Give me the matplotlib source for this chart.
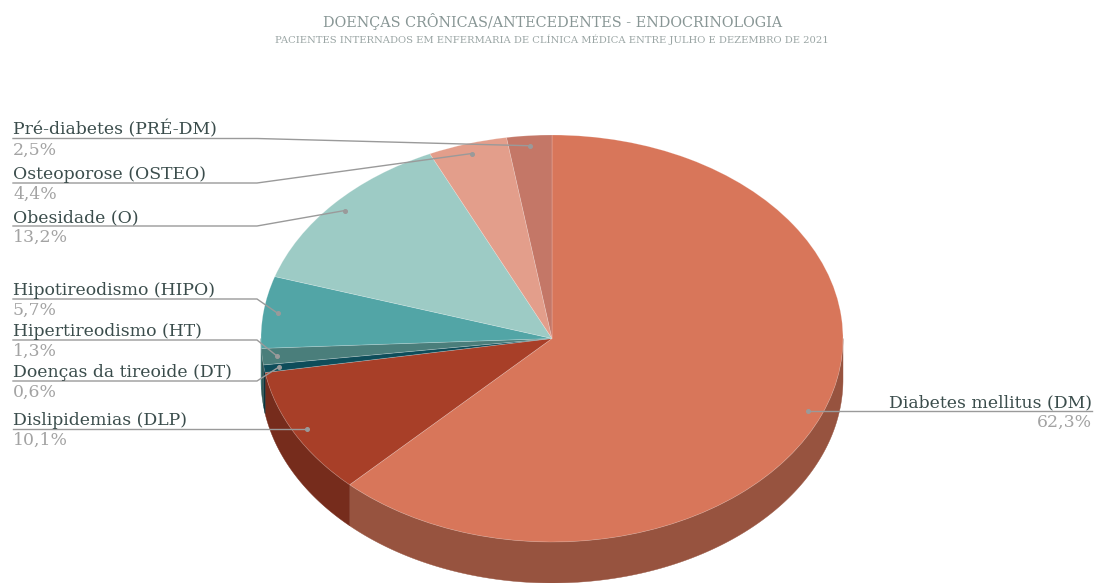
import numpy as np
import matplotlib
matplotlib.use("Agg")
import matplotlib.pyplot as plt
from matplotlib.colors import to_rgb

# ---------------- data ----------------
categories = ["Diabetes mellitus (DM)", "Dislipidemias (DLP)", "Doenças da tireoide (DT)",
              "Hipertireodismo (HT)", "Hipotireodismo (HIPO)", "Obesidade (O)",
              "Osteoporose (OSTEO)", "Pré-diabetes (PRÉ-DM)"]
values = [62.3, 10.1, 0.6, 1.3, 5.7, 13.2, 4.4, 2.5]
pct_labels = ["62,3%", "10,1%", "0,6%", "1,3%", "5,7%", "13,2%", "4,4%", "2,5%"]
colors = ["#D8765A", "#A83F28", "#0E4D5A", "#4A7E7B", "#52A5A6", "#9DCBC5", "#E39E8B", "#C47767"]

title = "DOENÇAS CRÔNICAS/ANTECEDENTES - ENDOCRINOLOGIA"
subtitle = "PACIENTES INTERNADOS EM ENFERMARIA DE CLÍNICA MÉDICA ENTRE JULHO E DEZEMBRO DE 2021"

# ---------------- layout ----------------
W, H = 1094, 583
CX, CY, RX, RY = 552.0, 338.5, 291.0, 203.5
DEPTH = 41.0 / RY
# label line y (pixels) for left-side labels; None -> use dot height
label_line_y = [None, None, 381, 340, 299, 226, 183, 138.5]
ELBOW_X = 257
LEFT_X = 13
RIGHT_X = 1092

fig = plt.figure(figsize=(W / 100, H / 100), dpi=100)
ax = fig.add_axes([0, 0, 1, 1])

def px(x, y):
    return (x - CX) / RX, (CY - y) / RY

def to_px(x, y):
    return CX + x * RX, CY - y * RY

vals = np.array(values, dtype=float)
frac = vals / vals.sum()
cum = np.concatenate([[0], np.cumsum(frac)])
# math angles (deg), clockwise from top
a_start = 90 - cum[:-1] * 360
a_end = 90 - cum[1:] * 360

def darker(c, f=0.7):
    r, g, b = to_rgb(c)
    return (r * f, g * f, b * f)

# side walls (front half only: math angle in [180, 360])
for i in range(len(vals)):
    t1, t2 = a_end[i], a_start[i]  # t1 < t2
    for shift in (0, -360, 360):
        lo = max(t1 + shift, 180)
        hi = min(t2 + shift, 360)
        if hi > lo:
            t = np.radians(np.linspace(lo, hi, 200))
            xs = np.cos(t)
            ys = np.sin(t)
            poly_x = np.concatenate([xs, xs[::-1]])
            poly_y = np.concatenate([ys, ys[::-1] - DEPTH])
            ax.fill(poly_x, poly_y, color=darker(colors[i]), lw=0.3,
                    ec=darker(colors[i]), zorder=1)

# top face
wedges, _ = ax.pie(vals, colors=colors, startangle=90, counterclock=False,
                   radius=1, center=(0, 0), frame=True,
                   wedgeprops=dict(linewidth=0.5, edgecolor=(1, 1, 1, 0.25)))
for w in wedges:
    w.set_zorder(2)
ax.set_aspect("auto")
ax.set_xlim((0 - CX) / RX, (W - CX) / RX)
ax.set_ylim((CY - H) / RY, (CY - 0) / RY)
ax.axis("off")

# ---------------- labels ----------------
FONT = "DejaVu Serif"
LBL_COLOR = "#3B4D4C"
PCT_COLOR = "#A3A3A3"
LINE_COLOR = "#9A9A9A"
LSIZE = 12.4

mid = np.radians((a_start + a_end) / 2)
for i in range(len(vals)):
    dx, dy = 0.95 * np.cos(mid[i]), 0.95 * np.sin(mid[i])
    dpx, dpy = to_px(dx, dy)
    ax.plot([dx], [dy], "o", ms=2.6, color=LINE_COLOR, zorder=5)
    if i == 0:
        ly = dpy
        xs_px = [dpx, RIGHT_X]
        ys_px = [ly, ly]
        fig.text(RIGHT_X / W, 1 - (ly - 4) / H, categories[i], ha="right", va="baseline",
                 family=FONT, fontsize=LSIZE, color=LBL_COLOR)
        fig.text(RIGHT_X / W, 1 - (ly + 3) / H, pct_labels[i], ha="right", va="top",
                 family=FONT, fontsize=LSIZE, color=PCT_COLOR)
    else:
        ly = label_line_y[i] if label_line_y[i] is not None else dpy
        if label_line_y[i] is None:
            xs_px = [LEFT_X, dpx]
            ys_px = [ly, ly]
        else:
            xs_px = [LEFT_X, ELBOW_X, dpx]
            ys_px = [ly, ly, dpy]
        fig.text(LEFT_X / W, 1 - (ly - 4) / H, categories[i], ha="left", va="baseline",
                 family=FONT, fontsize=LSIZE, color=LBL_COLOR)
        fig.text(LEFT_X / W, 1 - (ly + 3) / H, pct_labels[i], ha="left", va="top",
                 family=FONT, fontsize=LSIZE, color=PCT_COLOR)
    pts = [px(x, y) for x, y in zip(xs_px, ys_px)]
    ax.plot([p[0] for p in pts], [p[1] for p in pts], color=LINE_COLOR, lw=1.0, zorder=4,
            solid_joinstyle="miter")

fig.text(552.5 / W, 1 - 21 / H, title, ha="center", va="center", family=FONT,
         fontsize=10.4, color="#889695")
fig.text(552 / W, 1 - 39.5 / H, subtitle, ha="center", va="center", family=FONT,
         fontsize=7.2, color="#9AA5A4")

fig.savefig("out.png", dpi=100, facecolor="white")
